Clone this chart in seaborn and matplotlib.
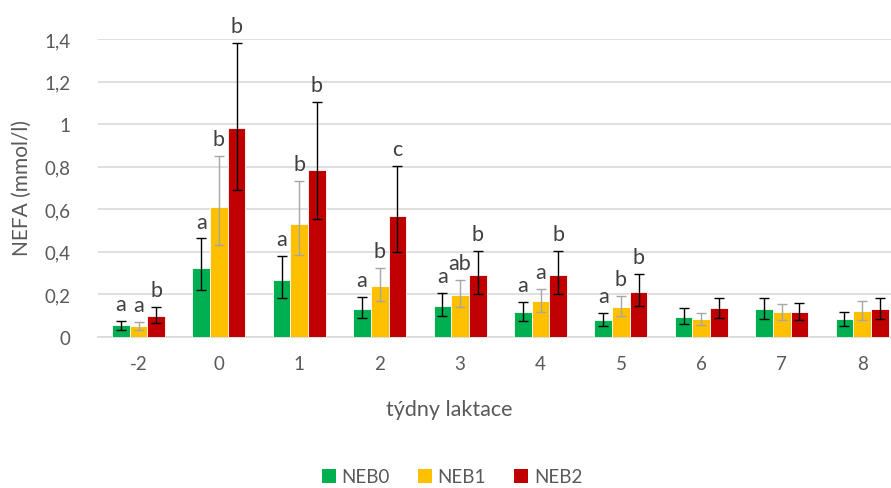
import numpy as np
import pandas as pd
import matplotlib
matplotlib.use("Agg")
import matplotlib.pyplot as plt
import seaborn as sns
from matplotlib.patches import Patch

weeks = ["-2", "0", "1", "2", "3", "4", "5", "6", "7", "8"]
groups = ["NEB0", "NEB1", "NEB2"]

neb0 = [0.056, 0.325, 0.266, 0.131, 0.147, 0.116, 0.080, 0.095, 0.130, 0.083]
neb1 = [0.052, 0.609, 0.532, 0.238, 0.199, 0.169, 0.141, 0.085, 0.116, 0.122]
neb2 = [0.100, 0.981, 0.784, 0.569, 0.291, 0.291, 0.210, 0.135, 0.116, 0.130]

neb0_hi = [0.077, 0.463, 0.379, 0.186, 0.208, 0.163, 0.111, 0.135, 0.185, 0.119]
neb0_lo = [0.034, 0.222, 0.183, 0.089, 0.099, 0.077, 0.052, 0.061, 0.085, 0.052]
neb1_hi = [0.072, 0.850, 0.732, 0.325, 0.269, 0.227, 0.192, 0.114, 0.156, 0.168]
neb1_lo = [0.034, 0.430, 0.383, 0.169, 0.139, 0.119, 0.099, 0.056, 0.078, 0.081]
neb2_hi = [0.140, 1.380, 1.106, 0.803, 0.405, 0.405, 0.294, 0.185, 0.161, 0.185]
neb2_lo = [0.066, 0.690, 0.553, 0.400, 0.203, 0.202, 0.146, 0.091, 0.078, 0.085]

neb0_sig = ["a", "a", "a", "a", "a", "a", "a", "", "", ""]
neb1_sig = ["a", "b", "b", "b", "ab", "a", "b", "", "", ""]
neb2_sig = ["b", "b", "b", "c", "b", "b", "b", "", "", ""]

yticks = [0, 0.2, 0.4, 0.6, 0.8, 1.0, 1.2, 1.4]
ytick_labels = ["0", "0,2", "0,4", "0,6", "0,8", "1", "1,2", "1,4"]

colors = ["#00B050", "#FFC000", "#C00000"]
err_colors = ["black", "#A6A6A6", "black"]
txt = "#595959"
letter_col = "#404040"
grid = "#D9D9D9"

sns.set_theme(style="white")
plt.rcParams["font.family"] = ["Lato", "DejaVu Sans"]

df = pd.DataFrame({
    "week": weeks * 3,
    "group": [g for g in groups for _ in weeks],
    "value": neb0 + neb1 + neb2,
})

fig = plt.figure(figsize=(8.91, 4.89), dpi=100)
ax = fig.add_axes([98.3 / 891, (489 - 338) / 489, 804 / 891, 298 / 489])

sns.barplot(data=df, x="week", y="value", hue="group", order=weeks,
            hue_order=groups, palette=colors, width=0.66, errorbar=None,
            edgecolor="white", linewidth=0.6, saturation=1, ax=ax,
            legend=False, zorder=3)

his = [neb0_hi, neb1_hi, neb2_hi]
los = [neb0_lo, neb1_lo, neb2_lo]
sigs = [neb0_sig, neb1_sig, neb2_sig]
vals = [neb0, neb1, neb2]
bar_containers = list(ax.containers)
for gi, cont in enumerate(bar_containers):
    xs = [p.get_x() + p.get_width() / 2 for p in cont.patches]
    v = np.array(vals[gi])
    lo = v - np.array(los[gi])
    hi = np.array(his[gi]) - v
    ax.errorbar(xs, v, yerr=[lo, hi], fmt="none", ecolor=err_colors[gi],
                elinewidth=1.0, capsize=3.6, capthick=1.0, zorder=4)
    for x, h, s in zip(xs, his[gi], sigs[gi]):
        if s:
            ax.annotate(s, (x, h), xytext=(0, 5), textcoords="offset points",
                        ha="center", va="bottom", fontsize=15.5,
                        color=letter_col)

ax.set_ylim(0, 1.4)
ax.set_xlim(-0.5, len(weeks) - 0.5)
ax.set_yticks(yticks)
ax.set_yticklabels(ytick_labels, fontsize=13.5, color=txt)
ax.tick_params(axis="y", length=0, pad=20)
ax.tick_params(axis="x", which="major", length=0, pad=13, labelsize=13.5,
               labelcolor=txt)
ax.set_xticks(np.arange(-0.5, len(weeks), 1), minor=True)
ax.tick_params(axis="x", which="minor", length=6, width=1, color=grid)
ax.grid(axis="y", color=grid, linewidth=1.2, zorder=0)
ax.set_axisbelow(True)
for s in ["top", "right", "left"]:
    ax.spines[s].set_visible(False)
ax.spines["bottom"].set_color(grid)
ax.spines["bottom"].set_linewidth(1.2)
ax.set_xlabel("")
ax.set_ylabel("")

fig.text(22 / 891, 1 - 188 / 489, "NEFA (mmol/l)", rotation=90, ha="center",
         va="center", fontsize=15, color=txt)
fig.text(449 / 891, 1 - 410 / 489, "týdny laktace", ha="center",
         va="center", fontsize=15.5, color=txt)

handles = [Patch(facecolor=c, edgecolor="none", label=g)
           for c, g in zip(colors, groups)]
fig.legend(handles=handles, loc="center", bbox_to_anchor=(452 / 891, 1 - 478 / 489),
           ncol=3, frameon=False, fontsize=13.5, labelcolor=txt,
           handlelength=0.75, handleheight=0.75, handletextpad=0.3,
           columnspacing=1.5)

fig.savefig("out.png", dpi=100)
